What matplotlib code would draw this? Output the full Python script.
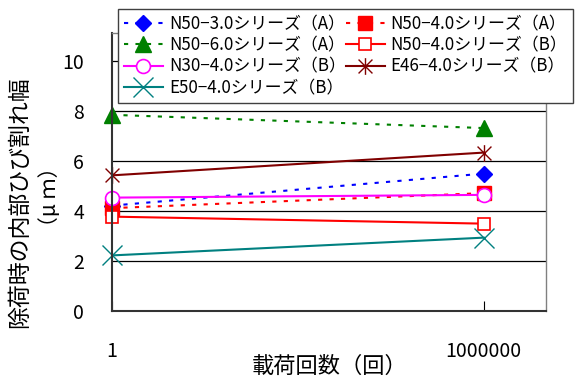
import matplotlib
matplotlib.use("Agg")
import matplotlib.pyplot as plt
from matplotlib.path import Path

plt.rcParams['font.family'] = ['Noto Sans CJK JP', 'DejaVu Sans']

# load cycles and residual internal crack width (um)
cycles = [1, 1000000]
series = ["N50−3.0シリーズ（A）", "N50−4.0シリーズ（A）", "N50−6.0シリーズ（A）",
          "N50−4.0シリーズ（B）", "N30−4.0シリーズ（B）", "E46−4.0シリーズ（B）",
          "E50−4.0シリーズ（B）"]
n50_30_a = [4.2, 5.48]
n50_40_a = [4.1, 4.7]
n50_60_a = [7.83, 7.3]
n50_40_b = [3.76, 3.48]
n30_40_b = [4.52, 4.63]
e46_40_b = [5.41, 6.32]
e50_40_b = [2.21, 2.92]
values = [n50_30_a, n50_40_a, n50_60_a, n50_40_b, n30_40_b, e46_40_b, e50_40_b]

# x with a vertical bar (Excel star marker)
star = Path([(-1, -1), (1, 1), (-1, 1), (1, -1), (0, -1.2), (0, 1.2)],
            [Path.MOVETO, Path.LINETO, Path.MOVETO, Path.LINETO, Path.MOVETO, Path.LINETO])

dot = (0, (2, 3.5))
styles = [
    dict(color="#0000FF", ls=dot, marker="D", ms=8, mfc="#0000FF", mec="#0000FF"),
    dict(color="#FF0000", ls=dot, marker="s", ms=10, mfc="#FF0000", mec="#FF0000"),
    dict(color="#008000", ls=dot, marker="^", ms=11, mfc="#008000", mec="#008000"),
    dict(color="#FF0000", ls="-", marker="s", ms=8, mfc="white", mec="#FF0000", mew=1.2),
    dict(color="#FF00FF", ls="-", marker="o", ms=10, mfc="white", mec="#FF00FF", mew=1.2),
    dict(color="#800000", ls="-", marker=star, ms=12, mfc="none", mec="#800000", mew=1.0),
    dict(color="#008080", ls="-", marker="x", ms=15, mec="#008080", mew=1.0),
]

fig = plt.figure(figsize=(5.76, 3.82), dpi=100)
ax = fig.add_axes([112 / 576, 1 - 310.7 / 382, 433.7 / 576, 277.7 / 382])

handles = []
for name, v, st in zip(series, values, styles):
    h, = ax.plot(cycles, v, lw=1.5, label=name, clip_on=False, **st)
    handles.append(h)

ax.set_xscale("log")
ax.set_xlim(1, 1e7)
ax.set_ylim(0, 11.1)
ax.set_xticks(cycles)
ax.set_xticklabels(["1", "1000000"])
ax.xaxis.set_minor_locator(matplotlib.ticker.NullLocator())
ax.set_yticks([0, 2, 4, 6, 8, 10])
ax.yaxis.grid(True, color="black", lw=0.9)
ax.set_axisbelow(True)
ax.tick_params(axis="y", length=0, pad=20, labelsize=14)
ax.tick_params(axis="x", direction="in", length=7, pad=22, labelsize=14)
for s in ["left", "bottom"]:
    ax.spines[s].set_color("#333333")
    ax.spines[s].set_linewidth(1.5)
for s in ["top", "right"]:
    ax.spines[s].set_color("#808080")
    ax.spines[s].set_linewidth(1.0)

ax.set_xlabel("載荷回数（回）", fontsize=16)
ax.xaxis.set_label_coords((330 - 112) / 433.7, (310.7 - 366) / 277.7)
ax.xaxis.label.set_va("center")

fig.text(20 / 576, 1 - 202 / 382, "除荷時の内部ひび割れ幅", rotation=90,
         ha="center", va="center", fontsize=16.5)
fig.text(50 / 576, 1 - 197 / 382, "（μ ｍ）", rotation=90,
         ha="center", va="center", fontsize=15)

# legend reads row by row in the original; matplotlib fills column by column
order = [0, 2, 4, 6, 1, 3, 5]
leg = fig.legend([handles[i] for i in order], [series[i] for i in order],
                 ncol=2, loc="upper left", bbox_to_anchor=(118 / 576, 1 - 9 / 382),
                 borderaxespad=0, fontsize=12.2, handlelength=2.3, handletextpad=0.35,
                 columnspacing=0.0, labelspacing=0.2, borderpad=0.35,
                 fancybox=False, framealpha=1, edgecolor="#404040")
leg.get_frame().set_linewidth(1.0)

fig.savefig("out.png", dpi=100)
